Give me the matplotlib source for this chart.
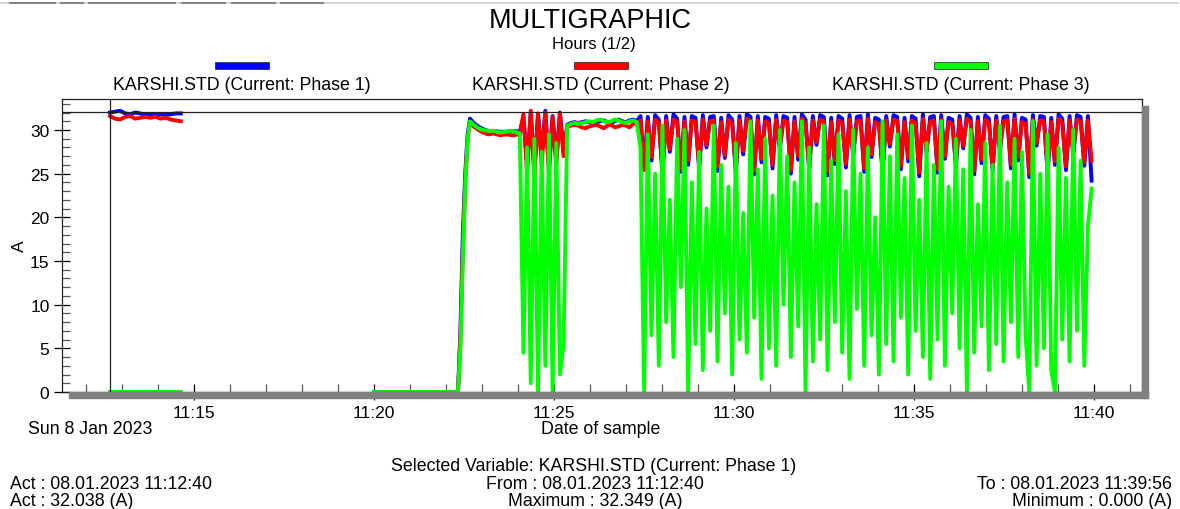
import numpy as np
import matplotlib
matplotlib.use("Agg")
import matplotlib.pyplot as plt
from matplotlib.ticker import MultipleLocator, FuncFormatter
from matplotlib.patches import Rectangle
from matplotlib.lines import Line2D

plt.rcParams['font.family'] = ['Liberation Sans', 'DejaVu Sans']

# time is in seconds after 11:00:00 (Sun 8 Jan 2023)
# --- segment A: 11:12:40 - 11:14:38
seg_a = (760, 878)
phase1_a = [32.0, 32.1, 32.2, 31.9, 31.8, 32.0, 31.9, 31.7, 31.8, 31.7, 31.8, 31.7, 31.8, 31.9, 31.9]
phase2_a = [31.6, 31.3, 31.2, 31.5, 31.6, 31.3, 31.4, 31.5, 31.4, 31.5, 31.3, 31.4, 31.2, 31.1, 31.0]
phase3_a = [0.0] * 15

# --- segment B: 11:20:00 - 11:24:03 (start-up and first plateau)
times_b = [1200, 1340, 1344, 1348, 1352, 1356, 1360, 1366, 1374, 1382, 1390, 1400, 1410, 1420, 1430, 1443]
phase1_b = [0.0, 0.0, 7.0, 18.0, 25.0, 29.5, 31.3, 30.8, 30.4, 30.1, 29.9, 29.9, 29.8, 29.8, 29.9, 29.8]
phase2_b = [0.0, 0.0, 6.0, 16.0, 24.0, 29.0, 30.9, 30.4, 30.0, 29.7, 29.5, 29.6, 29.4, 29.5, 29.4, 29.5]
phase3_b = [0.0, 0.0, 5.0, 15.0, 23.5, 29.0, 31.0, 30.6, 30.2, 30.0, 29.9, 29.9, 29.7, 29.8, 29.9, 29.6]

# --- segment C: 11:24:03 - 11:25:22 (first cycling)
seg_c = (1443, 1522)
phase1_c = [29.8, 31.5, 26.0, 32.0, 25.5, 31.8, 27.0, 32.2, 25.8, 31.6, 26.5, 32.0, 27.5, 30.5]
phase2_c = [29.5, 31.8, 25.0, 32.2, 24.5, 31.9, 26.0, 32.0, 25.0, 31.5, 26.0, 31.9, 27.0, 30.3]
phase3_c = [29.6, 4.5, 28.0, 1.0, 29.0, 0.0, 27.5, 3.0, 29.5, 0.0, 28.5, 2.0, 5.5, 30.5]

# --- segment D: 11:25:22 - 11:27:18 (second plateau)
seg_d = (1522, 1638)
phase1_d = [30.6, 30.8, 30.9, 30.8, 30.9, 31.0, 30.9, 30.8, 30.9, 31.0,
            31.1, 30.9, 30.8, 31.0, 31.2, 31.0, 30.9, 31.1, 31.2, 31.0]
phase2_d = [30.4, 30.5, 30.6, 30.5, 30.3, 30.2, 30.4, 30.5, 30.6, 30.4,
            30.2, 30.5, 30.6, 30.3, 30.4, 30.6, 30.5, 30.3, 30.7, 30.8]
phase3_d = [30.5, 30.7, 30.8, 30.7, 30.8, 30.9, 31.0, 30.9, 31.1, 31.2,
            31.0, 30.9, 31.0, 31.2, 31.1, 30.9, 30.8, 31.0, 31.1, 30.9]

# --- segment E: 11:27:18 - 11:39:56 (continuous cycling)
seg_e = (1638, 2396)
phase1_e = [
    31.0, 31.6, 25.8, 31.5, 26.5, 31.7, 31.2, 25.0, 31.6, 27.5,
    31.8, 31.3, 25.2, 31.5, 26.0, 31.6, 31.4, 25.5, 31.7, 28.0,
    31.5, 31.6, 25.3, 31.4, 26.8, 31.7, 31.2, 25.1, 31.6, 27.2,
    31.8, 31.5, 24.9, 31.6, 26.3, 31.5, 31.3, 25.6, 31.7, 27.8,
    31.6, 31.4, 25.0, 31.5, 26.6, 31.8, 31.2, 25.4, 31.6, 28.3,
    31.7, 31.5, 24.8, 31.4, 26.1, 31.6, 31.3, 25.7, 31.7, 27.0,
    31.5, 31.6, 25.2, 31.8, 26.9, 31.4, 31.2, 25.0, 31.6, 28.1,
    31.7, 31.5, 25.5, 31.4, 26.4, 31.6, 31.3, 24.7, 31.8, 27.4,
    31.5, 31.6, 25.1, 31.7, 26.7, 31.4, 31.2, 25.8, 31.6, 27.9,
    31.8, 31.4, 24.9, 31.5, 26.2, 31.7, 31.3, 25.3, 31.6, 27.6,
    31.5, 31.6, 25.6, 31.8, 26.5, 31.4, 31.2, 24.6, 31.7, 28.2,
    31.6, 31.5, 25.0, 31.4, 26.0, 31.8, 31.3, 25.4, 31.6, 27.1,
    31.7, 31.5, 25.9, 31.6, 24.2,
]
phase2_e = [
    30.6, 31.1, 25.4, 31.0, 26.9, 31.2, 30.8, 25.2, 31.1, 27.8,
    31.2, 30.9, 25.6, 31.0, 26.5, 31.1, 30.9, 25.9, 31.2, 28.3,
    31.0, 31.1, 25.8, 30.9, 27.1, 31.2, 30.7, 25.5, 31.1, 27.6,
    31.3, 31.0, 25.3, 31.1, 26.7, 31.0, 30.8, 26.0, 31.2, 28.1,
    31.1, 30.9, 25.4, 31.0, 27.0, 31.3, 30.7, 25.8, 31.1, 28.6,
    31.2, 31.0, 25.2, 30.9, 26.5, 31.1, 30.8, 26.1, 31.2, 27.4,
    31.0, 31.1, 25.6, 31.3, 27.2, 30.9, 30.7, 25.4, 31.1, 28.4,
    31.2, 31.0, 25.9, 30.9, 26.8, 31.1, 30.8, 25.1, 31.3, 27.8,
    31.0, 31.1, 25.5, 31.2, 27.0, 30.9, 30.7, 26.2, 31.1, 28.2,
    31.3, 30.9, 25.3, 31.0, 26.6, 31.2, 30.8, 25.7, 31.1, 27.9,
    31.0, 31.1, 26.0, 31.3, 26.9, 30.9, 30.7, 25.0, 31.2, 28.5,
    31.1, 31.0, 25.4, 30.9, 26.4, 31.3, 30.8, 25.8, 31.1, 27.5,
    31.2, 31.0, 26.3, 31.1, 26.5,
]
phase3_e = [
    30.8, 28.0, 0.0, 29.5, 6.5, 25.0, 3.0, 30.5, 8.0, 22.0,
    4.0, 29.0, 12.0, 30.0, 0.0, 24.0, 5.5, 27.5, 2.5, 21.0,
    7.0, 30.5, 3.5, 26.0, 9.0, 23.5, 2.0, 28.5, 6.0, 20.5,
    4.5, 31.0, 8.5, 25.5, 1.5, 29.0, 5.0, 22.5, 3.0, 30.0,
    10.0, 27.0, 4.0, 24.0, 7.5, 31.0, 0.0, 28.0, 3.5, 21.5,
    6.0, 30.5, 2.5, 26.5, 8.0, 29.5, 4.5, 23.0, 1.5, 30.0,
    9.5, 25.0, 3.0, 28.0, 6.5, 20.0, 2.0, 31.0, 5.5, 27.0,
    3.5, 29.5, 8.5, 24.5, 2.0, 30.5, 7.0, 22.0, 4.0, 28.5,
    1.5, 26.0, 6.0, 31.0, 3.0, 23.5, 9.0, 29.0, 5.0, 25.5,
    0.0, 30.0, 4.5, 21.5, 7.5, 28.5, 2.5, 26.0, 5.5, 30.5,
    3.5, 24.0, 8.0, 29.0, 4.0, 27.5, 6.5, 0.0, 31.0, 3.0,
    25.0, 5.0, 29.5, 2.5, 0.0, 28.0, 6.0, 24.5, 3.5, 30.0,
    7.0, 26.5, 3.0, 19.0, 23.3,
]

cursor_time = 760       # 11:12:40
cursor_value = 32.038

series_names = ["KARSHI.STD (Current: Phase 1)",
                "KARSHI.STD (Current: Phase 2)",
                "KARSHI.STD (Current: Phase 3)"]
series_colors = ["#0000ff", "#ff0000", "#00ff00"]


def build(a, b, c, d, e):
    """Join the recorded segments, with a gap (NaN) where nothing was logged."""
    t = np.concatenate([np.linspace(*seg_a, len(a)), [1000.0], times_b,
                        np.linspace(*seg_c, len(c)), np.linspace(*seg_d, len(d)),
                        np.linspace(*seg_e, len(e))])
    v = np.concatenate([a, [np.nan], b, c, d, e])
    return t, v


phases = [build(phase1_a, phase1_b, phase1_c, phase1_d, phase1_e),
          build(phase2_a, phase2_b, phase2_c, phase2_d, phase2_e),
          build(phase3_a, phase3_b, phase3_c, phase3_d, phase3_e)]

W, H = 1180, 510
fig = plt.figure(figsize=(W / 100, H / 100), dpi=100)


def fx(x):
    return x / W


def fy(y):
    return 1 - y / H


# drop shadow of the plot frame
fig.patches.append(Rectangle((fx(69), fy(399)), fx(1079), 6 / H, transform=fig.transFigure,
                             color="#808080", zorder=0))
fig.patches.append(Rectangle((fx(1142), fy(399)), 6 / W, 292 / H, transform=fig.transFigure,
                             color="#808080", zorder=0))

ax = fig.add_axes([fx(62), fy(393), fx(1080), 293 / H])

for (t, v), col in zip(phases, series_colors):
    ax.plot(t, v, color=col, linewidth=2.8, solid_joinstyle="round")

ax.axhline(cursor_value, color="#202020", linewidth=0.9)
ax.axvline(cursor_time, color="#202020", linewidth=0.9)

ax.set_xlim(680, 2480)
ax.set_ylim(0, 33.55)
ax.xaxis.set_major_locator(MultipleLocator(300))
ax.xaxis.set_minor_locator(MultipleLocator(60))
ax.xaxis.set_major_formatter(FuncFormatter(lambda s, p: f"{11 + int(s // 3600)}:{int(s % 3600 // 60):02d}"))
ax.yaxis.set_major_locator(MultipleLocator(5))
ax.yaxis.set_minor_locator(MultipleLocator(1))

ax.tick_params(which="major", direction="inout", length=12, width=0.9, labelsize=12.5, colors="black")
ax.tick_params(axis="x", which="major", pad=3)
ax.tick_params(axis="y", which="major", pad=3)
ax.tick_params(which="minor", direction="in", length=6, width=0.9, color="#555555")
for sp in ax.spines.values():
    sp.set_linewidth(0.9)
    sp.set_color("#202020")

ax.set_ylabel("A", fontsize=12.5, labelpad=2)

# title block
fig.text(0.5, fy(21), "MULTIGRAPHIC", ha="center", va="center", fontsize=19.5)
fig.text(fx(594), fy(45), "Hours (1/2)", ha="center", va="center", fontsize=12)

# legend: coloured bars above each series name
for name, col, cx in zip(series_names, series_colors, [242, 601, 961]):
    fig.patches.append(Rectangle((fx(cx - 27), fy(70)), 54 / W, 7 / H, transform=fig.transFigure,
                                 facecolor=col, edgecolor="#202020", linewidth=0.5))
    fig.text(fx(cx), fy(86), name, ha="center", va="center", fontsize=12.8)

# axis annotations under the plot
fig.text(fx(28), fy(430), "Sun 8 Jan 2023", ha="left", va="center", fontsize=12.8)
fig.text(fx(601), fy(430), "Date of sample", ha="center", va="center", fontsize=12.8)

# status lines
fig.text(fx(594), fy(467), "Selected Variable: KARSHI.STD (Current: Phase 1)", ha="center", va="center", fontsize=12.8)
fig.text(fx(10), fy(485), "Act : 08.01.2023 11:12:40", ha="left", va="center", fontsize=12.8)
fig.text(fx(595), fy(485), "From : 08.01.2023 11:12:40", ha="center", va="center", fontsize=12.8)
fig.text(fx(1172), fy(485), "To : 08.01.2023 11:39:56", ha="right", va="center", fontsize=12.8)
fig.text(fx(10), fy(502), "Act : 32.038 (A)", ha="left", va="center", fontsize=12.8)
fig.text(fx(595), fy(502), "Maximum : 32.349 (A)", ha="center", va="center", fontsize=12.8)
fig.text(fx(1172), fy(502), "Minimum : 0.000 (A)", ha="right", va="center", fontsize=12.8)

# tab strip at the very top of the window
fig.lines.append(Line2D([fx(0), fx(1178)], [fy(4), fy(4)], transform=fig.transFigure,
                        color="#d0d0d0", linewidth=1.2))
for x0, x1 in [(10, 55), (61, 83), (89, 175), (182, 225), (232, 275), (281, 323)]:
    fig.lines.append(Line2D([fx(x0), fx(x1)], [fy(4), fy(4)], transform=fig.transFigure,
                            color="#808080", linewidth=1.4))

fig.savefig("out.png", dpi=100)
